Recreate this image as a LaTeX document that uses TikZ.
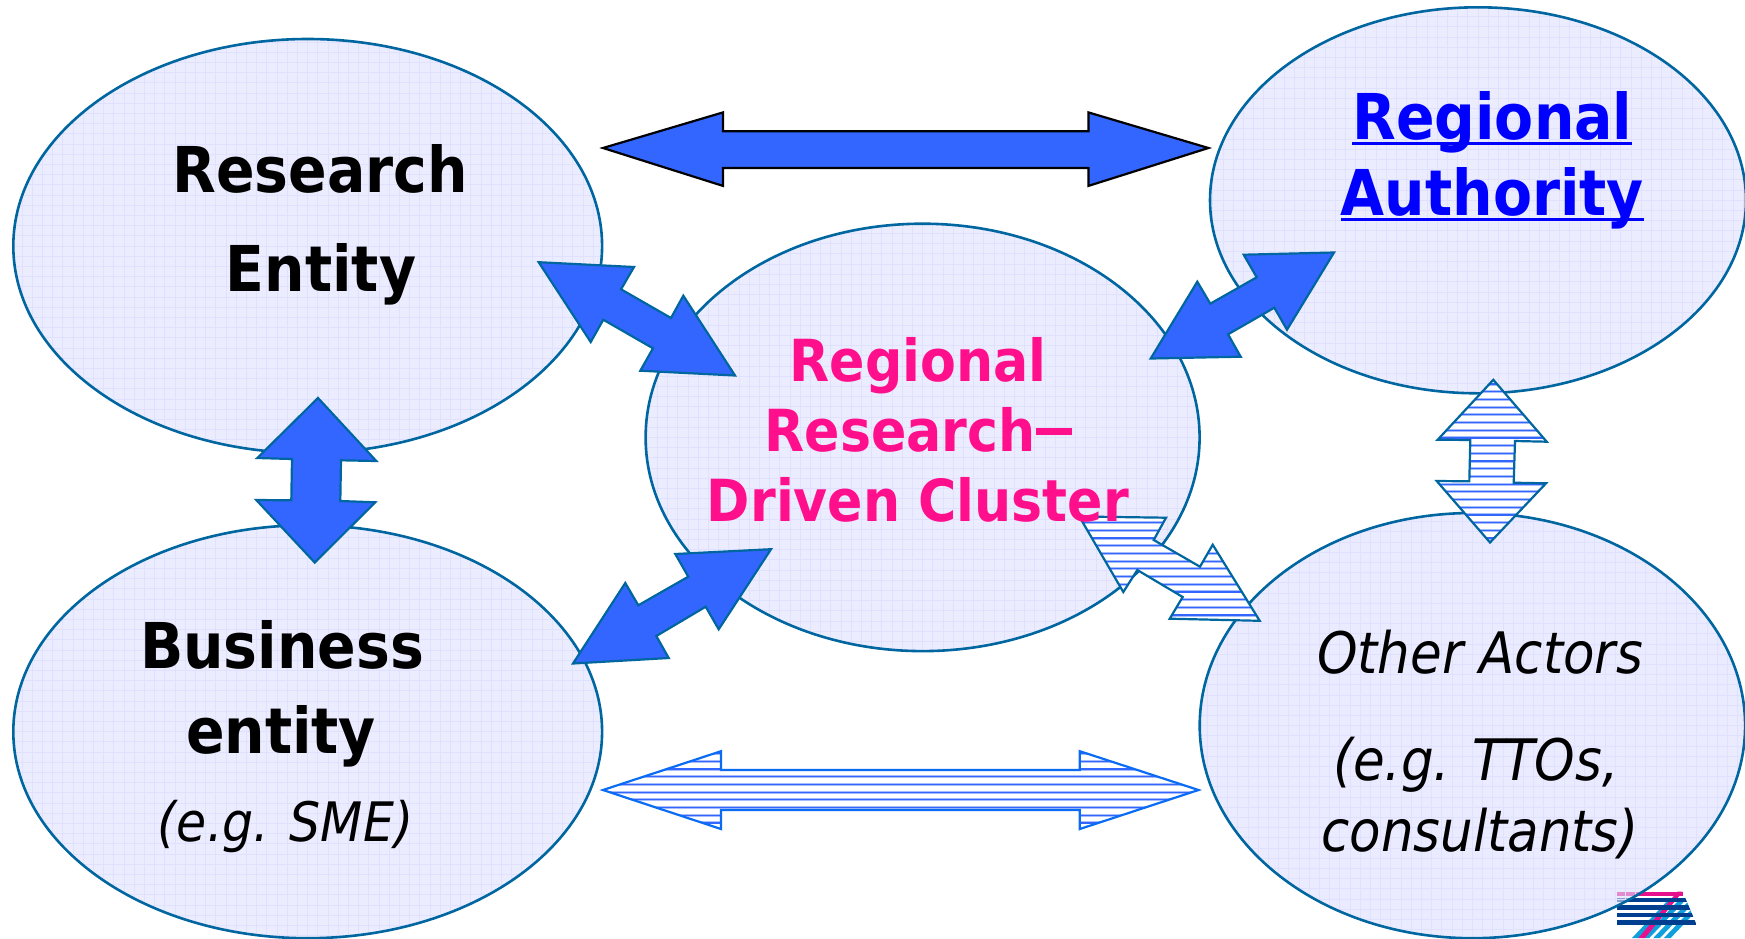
\documentclass[tikz,border=0pt]{standalone}
\usepackage{fontspec}
\setmainfont{DejaVu Sans Condensed}
\usetikzlibrary{shapes.geometric}
\definecolor{edgeblue}{HTML}{0066A0}
\definecolor{ovalfill}{HTML}{ECECFF}
\definecolor{ovalfillb}{HTML}{DFDFFF}
\definecolor{gridc}{HTML}{E0E0FF}
\definecolor{arrowblue}{HTML}{3366FF}
\definecolor{halo}{HTML}{A6BCFF}
\definecolor{brightedge}{HTML}{0A6CF5}
\definecolor{pinktxt}{HTML}{FF0F8C}
\definecolor{logonavy}{HTML}{003F8F}
\definecolor{logocyan}{HTML}{0FA0DC}
\definecolor{logopink}{HTML}{E6108C}
\newcommand\thickul[1]{\setbox0\hbox{#1}\rlap{\rule[-0.1em]{\wd0}{0.055em}}\box0}
\tikzset{
  oval/.style={ellipse,inner sep=0pt,outer sep=0pt,draw=edgeblue,line width=1.3pt,fill=ovalfill,
    path picture={
      \foreach \i in {-30,...,30}{\draw[gridc,line width=0.45pt] (\i*10.2,-300)--(\i*10.2,300);}
      \foreach \i in {-30,...,30}{\draw[gridc,line width=0.45pt] (-320,\i*10.2)--(320,\i*10.2);}
    }},
  solidarrow/.style={fill=arrowblue,draw=edgeblue,line width=1.1pt,line join=miter},
  blackarrow/.style={fill=arrowblue,draw=black,line width=1.1pt,line join=miter},
  hatcharrow/.style={fill=white,draw=#1,line width=1.1pt,line join=miter,
    path picture={
      \foreach \i in {0,...,70}{
        \draw[halo,line width=1.5pt] (0,391.7+\i*7.7-46.2)--(1745,391.7+\i*7.7-46.2);
        \draw[arrowblue,line width=0.6pt] (0,391.7+\i*7.7-46.2)--(1745,391.7+\i*7.7-46.2);
      }
    }},
  hatcharrow/.default=edgeblue,
  boldlab/.style={anchor=base,inner sep=0pt,font=\fontsize{31.6}{31.6}\selectfont\bfseries},
  pinklab/.style={anchor=base,inner sep=0pt,text=pinktxt,font=\fontsize{29}{29}\selectfont\bfseries},
  itlab/.style={anchor=base,inner sep=0pt,font=\fontsize{28.6}{28.6}\selectfont\itshape},
}
\begin{document}
\begin{tikzpicture}[x=0.5pt,y=-0.5pt]
\useasboundingbox (0,0) rectangle (1745,938);
\fill[white] (0,0) rectangle (1745,938);
% logo, under the translucent oval
\begin{scope}[shift={(1590,860)},x=0.16667pt,y=-0.16667pt]
  \clip (80,95)--(278,95)--(320,195)--(283,234)--(80,234)--cycle;
  \foreach \a in {0,32,64,96}{
    \fill[logocyan] (262+\a-32,125)--(282+\a-32,125)--(172+\a-32,240)--(152+\a-32,240)--cycle;
  }
  \fill[logopink] (80,95) rectangle (278,108);
  \fill[logopink] (262,95)--(278,95)--(160,240)--(140,240)--cycle;
  \fill[logonavy] (80,113) rectangle (320,127);
  \fill[logonavy] (80,136) rectangle (320,150);
  \fill[logonavy] (80,158) rectangle (320,172);
  \fill[logonavy] (80,180) rectangle (320,196);
\end{scope}
% ovals
\node[oval,minimum width=294.4pt,minimum height=207pt] (research) at (307.7,246) {};
\node[oval,minimum width=294.4pt,minimum height=206.5pt] (business) at (307.7,731.7) {};
\node[oval,minimum width=277pt,minimum height=213.7pt] (cluster) at (922.6,437.4) {};
\node[oval,minimum width=268pt,minimum height=193pt] (authority) at (1478,200.3) {};
\node[oval,fill=ovalfillb,fill opacity=0.6,minimum width=272.7pt,minimum height=212.6pt] (other) at (1472.4,725.6) {};
% block arrows
\path[blackarrow] (603,148)--(723,112.4)--(723,131.3)--(1088.4,131.3)--(1088.4,112.4)--(1208.4,148)--(1088.4,185.9)--(1088.4,168)--(723,168)--(723,185.9)--cycle;
\path[solidarrow] (538.7,262.2)--(634,267)--(621,289.3)--(671,318)--(683.3,295.7)--(735,375.5)--(640.3,370.7)--(653,348.3)--(603.3,319.7)--(590.7,342)--cycle;
\path[solidarrow] (1150.7,358.5)--(1197.3,281.7)--(1210.3,303.7)--(1256.7,277.3)--(1243.7,254.7)--(1334,252.5)--(1287,329.7)--(1274.3,307.7)--(1228,334.3)--(1240.7,356.7)--cycle;
\path[solidarrow] (573,663.5)--(625.3,583)--(638.3,605.3)--(688.3,576.7)--(675.3,554)--(771,549.2)--(718.7,629.3)--(705.7,606.7)--(656.3,636)--(668.7,658)--cycle;
\path[solidarrow] (318,398)--(376.3,461)--(341,460.3)--(340.3,501)--(375.3,502.3)--(314.7,562.5)--(256.3,500)--(291.3,500.3)--(292,459)--(257.3,458)--cycle;
\path[hatcharrow] (1493.3,379.8)--(1546.7,441.7)--(1515,441)--(1513.7,482.7)--(1546,483.3)--(1490,542.5)--(1436.7,481)--(1469.3,481.3)--(1470.3,440)--(1437.7,439.7)--cycle;
\path[hatcharrow] (1079.3,516.5)--(1166,517.7)--(1153.7,540)--(1200,566.7)--(1212.7,544.7)--(1259.7,620.8)--(1169.7,618.7)--(1182.7,597)--(1137.3,570)--(1123.3,592)--cycle;
\path[hatcharrow=brightedge] (603,790)--(721,751.2)--(721,770)--(1079.8,770)--(1079.8,751.2)--(1198.5,790)--(1079.8,829)--(1079.8,810)--(721,810)--(721,829)--cycle;
% labels
\node[boldlab] (t1) at (320,192) {Research};
\node[boldlab] (t2) at (321,291) {Entity};
\node[boldlab] (t3) at (282,668) {Business};
\node[boldlab] (t4) at (281,753) {entity};
\node[itlab,font=\fontsize{27.2}{27.2}\selectfont\itshape] (t5) at (285.5,841) {(e.g. SME)};
\node[boldlab,text=blue] (t6) at (1492.4,139) {\thickul{Regional}};
\node[boldlab,text=blue] (t7) at (1492.4,215) {\thickul{Authority}};
\node[pinklab] (t8) at (918,381) {Regional};
\node[pinklab] (t9) at (918,451) {Research\rule[0.27em]{18pt}{0.12em}};
\node[pinklab] (t10) at (918,521) {Driven Cluster};
\node[itlab] (t11) at (1480,673.5) {Other Actors};
\node[itlab] (t12) at (1475.8,780.5) {(e.g. TTOs,};
\node[itlab] (t13) at (1480,851) {consultants)};
\end{tikzpicture}
\end{document}
